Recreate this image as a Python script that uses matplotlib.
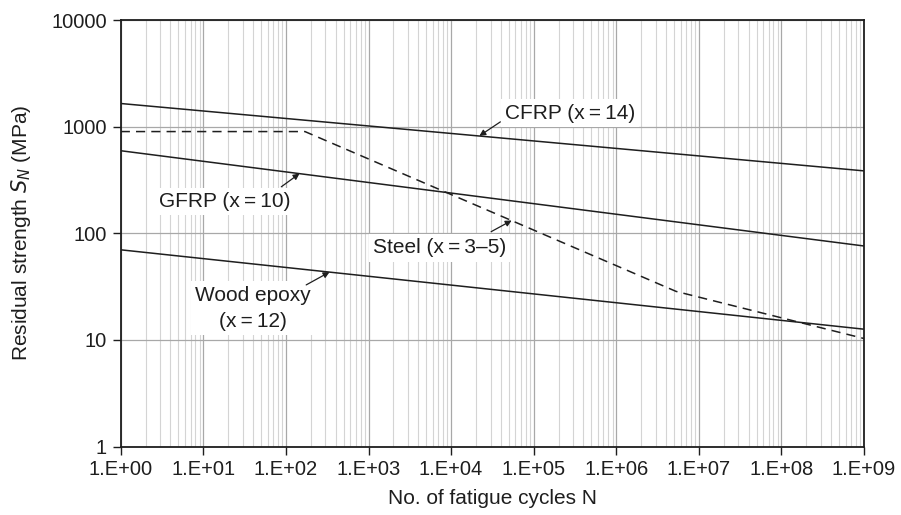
import numpy as np
import matplotlib.pyplot as plt
from matplotlib.ticker import FixedLocator, FuncFormatter, LogLocator, NullFormatter

plt.rcParams['font.family'] = ['Liberation Sans', 'DejaVu Sans']

# values (N in cycles, S in MPa)
n_ends = [1, 1e9]
cfrp_s = [1650, 385]
gfrp_s = [595, 76]
wood_s = [70, 12.6]
steel_n = [1, 170, 5.3e6, 1e9]
steel_s = [900, 900, 28.5, 10.3]

x_ticks = [10.0 ** k for k in range(10)]
y_ticks = [1, 10, 100, 1000, 10000]

ink = '#1e1e1e'
fig, ax = plt.subplots(figsize=(9.01, 5.15), dpi=100)
fig.subplots_adjust(left=0.134, right=0.959, top=0.961, bottom=0.133)

ax.plot(n_ends, cfrp_s, color=ink, lw=1.1)
ax.plot(n_ends, gfrp_s, color=ink, lw=1.1)
ax.plot(n_ends, wood_s, color=ink, lw=1.1)
ax.plot(steel_n, steel_s, color=ink, lw=1.1, ls=(0, (6, 4)))

ax.set_xscale('log')
ax.set_yscale('log')
ax.set_xlim(1, 1e9)
ax.set_ylim(1, 10000)

ax.xaxis.set_major_locator(FixedLocator(x_ticks))
ax.xaxis.set_major_formatter(FuncFormatter(lambda v, p: '1.E+%02d' % round(np.log10(v))))
ax.xaxis.set_minor_locator(LogLocator(base=10, subs=np.arange(2, 10), numticks=100))
ax.xaxis.set_minor_formatter(NullFormatter())
ax.yaxis.set_major_locator(FixedLocator(y_ticks))
ax.yaxis.set_major_formatter(FuncFormatter(lambda v, p: '%d' % v))
ax.yaxis.set_minor_locator(FixedLocator([]))

ax.grid(True, which='major', color='#a8a8a8', lw=0.9)
ax.grid(True, which='minor', axis='x', color='#d4d4d4', lw=0.8)
ax.set_axisbelow(True)

ax.tick_params(axis='both', which='major', direction='out', length=6, width=1, labelsize=14.5, colors=ink)
ax.tick_params(axis='x', which='minor', length=0)
ax.tick_params(axis='x', pad=4)
ax.tick_params(axis='y', pad=4)
for s in ax.spines.values():
    s.set_linewidth(1.3)
    s.set_color(ink)

ax.set_xlabel('No. of fatigue cycles N', fontsize=15, labelpad=7, color=ink)
ax.set_ylabel('Residual strength $S_N$ (MPa)', fontsize=15, labelpad=13, color=ink)

box = dict(facecolor='white', edgecolor='none', pad=3)
arrow = dict(arrowstyle='-|>', color=ink, lw=0.9, mutation_scale=9, shrinkA=0, shrinkB=0)
ts = '\u2009=\u2009'

ax.text(2.76e5, 1340, 'CFRP (x' + ts + '14)', fontsize=15, ha='center', va='center', color=ink, bbox=box)
ax.annotate('', xy=(2.2e4, 1650 * 2.2e4 ** (-1 / 14.3)), xytext=(3.95e4, 1110), arrowprops=arrow)

ax.text(18.4, 198, 'GFRP (x' + ts + '10)', fontsize=15, ha='center', va='center', color=ink, bbox=box)
ax.annotate('', xy=(146, 595 * 146 ** (-1 / 10.1)), xytext=(87.9, 273), arrowprops=arrow)

ax.text(7.2e3, 72.8, 'Steel (x' + ts + '3\u20135)', fontsize=15, ha='center', va='center', color=ink, bbox=box)
ax.annotate('', xy=(5.41e4, 900 * (5.41e4 / 170) ** (-1 / 3)), xytext=(3.05e4, 103.5), arrowprops=arrow)

ax.text(39.5, 19.8, 'Wood epoxy\n(x' + ts + '12)', fontsize=15, ha='center', va='center', color=ink,
        linespacing=1.5, bbox=box)
ax.annotate('', xy=(337, 70 * 337 ** (-1 / 12.1)), xytext=(176, 32.8), arrowprops=arrow)

fig.savefig('out.png', dpi=100)
